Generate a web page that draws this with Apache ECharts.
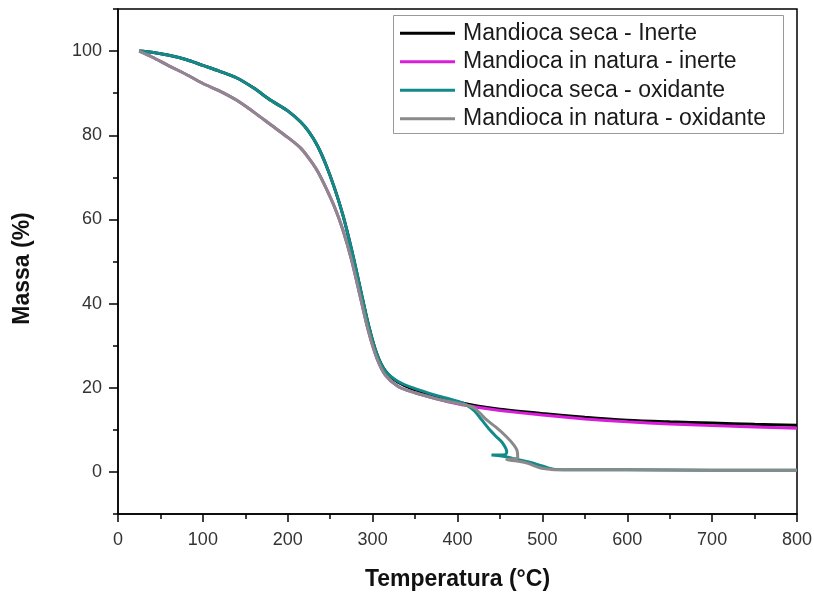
<!DOCTYPE html>
<html><head><meta charset="utf-8">
<script src="https://cdn.jsdelivr.net/npm/echarts@6/dist/echarts.min.js"></script>
<style>html,body{margin:0;padding:0;background:#fff}#c{width:814px;height:594px}</style>
</head><body><div id="c"></div>
<script>
// Temperature (°C) and mass (%)
const seriesNames = ['Mandioca seca - Inerte','Mandioca in natura - inerte','Mandioca seca - oxidante','Mandioca in natura - oxidante'];
const tSecaInerte = [25,40,60,80,100,120,140,160,180,200,215,225,235,245,255,265,275,285,295,305,315,330,350,375,400,425,450,500,550,600,650,700,750,800];
const mSecaInerte = [100,99.7,99,98,96.6,95.2,93.6,91.2,88.3,85.8,83.2,80.8,77.5,73,67.5,61,53,44,35,28,24,21.3,19.5,17.9,16.6,15.6,14.9,13.9,13.0,12.3,11.9,11.6,11.3,11.1];
const tNaturaInerte = [25,40,60,80,100,120,140,160,180,200,215,225,235,245,255,265,275,285,295,305,315,330,350,375,400,425,450,500,550,600,650,700,750,800];
const mNaturaInerte = [100,98.6,96.5,94.5,92.3,90.5,88.3,85.5,82.5,79.5,77,74.5,71.5,67.5,63,57.5,50.5,42,33.5,27,23,20.3,18.8,17.4,16.2,15.3,14.6,13.5,12.6,11.9,11.4,11.0,10.7,10.4];
const tSecaOxid = [25,40,60,80,100,120,140,160,180,200,215,225,235,245,255,265,275,285,295,305,315,330,350,375,400,410,420,428,438,446,453,458,456,448,440,452,465,485,500,515,600,700,800];
const mSecaOxid = [100,99.7,99,98,96.6,95.2,93.6,91.2,88.3,85.8,83.2,80.8,77.5,73,67.5,61,53,44,35,28,24,21.5,19.8,18.2,16.8,16.0,14.5,12.5,10,8.3,6.9,4.8,4.1,4.0,4.0,3.8,3.2,2.3,1.4,0.6,0.5,0.4,0.4];
const tNaturaOxid = [25,40,60,80,100,120,140,160,180,200,215,225,235,245,255,265,275,285,295,305,315,330,350,375,400,410,420,434,446,458,466,470,471,464,458,470,482,497,510,520,600,700,800];
const mNaturaOxid = [100,98.6,96.5,94.5,92.3,90.5,88.3,85.5,82.5,79.5,77,74.5,71.5,67.5,63,57.5,50.5,42,33.5,27,23,20.3,18.8,17.4,16.3,15.9,15.2,12.4,10.5,8.3,6.5,5.2,3.4,3.1,2.9,2.6,2.1,1.0,0.6,0.5,0.5,0.4,0.4];
const yTickLabels = [0,20,40,60,80,100];
const yMinorTicks = [-10,10,30,50,70,90,110];

const zip = (a,b) => a.map((v,i)=>[v,b[i]]);
const colors = ['#000000','#d81ed8','#138a8a','#8a8a8a'];
const datasets = [zip(tSecaInerte,mSecaInerte), zip(tNaturaInerte,mNaturaInerte), zip(tSecaOxid,mSecaOxid), zip(tNaturaOxid,mNaturaOxid)];
const font = 'Liberation Sans, Arial, sans-serif';

const chart = echarts.init(document.getElementById('c'));
chart.setOption({
  animation:false,
  grid:{left:118,right:17,top:9,bottom:80,show:true,borderColor:'#000',borderWidth:1.5,containLabel:false,outerBoundsMode:'none'},
  graphic:[{type:'rect',left:393,top:15,shape:{width:390,height:118},style:{fill:'#fff',stroke:'#999',lineWidth:1},z:-1,silent:true}],
  legend:{
    orient:'vertical',left:393,top:15,
    data:seriesNames,
    icon:'rect',itemWidth:55,itemHeight:3,itemGap:0,
    padding:[4,6,3,7],
    textStyle:{fontSize:23,fontFamily:font,color:'#1a1a1a',lineHeight:28.5,padding:[0,0,0,3]}
  },
  xAxis:{
    type:'value',min:0,max:800,interval:100,
    name:'Temperatura (°C)',nameLocation:'middle',nameGap:54,
    nameTextStyle:{fontSize:23,fontWeight:'bold',fontFamily:font,color:'#111'},
    axisLine:{show:true,onZero:false,lineStyle:{color:'#000',width:1.5}},
    axisTick:{show:true,inside:false,length:8,lineStyle:{color:'#000',width:1.5}},
    minorTick:{show:true,splitNumber:2,length:5,lineStyle:{color:'#000',width:1.5}},
    axisLabel:{fontSize:18,fontFamily:font,color:'#333',margin:17},
    splitLine:{show:false}
  },
  yAxis:[{
    type:'value',min:-10,max:110,
    name:'Massa (%)',nameLocation:'middle',nameGap:84,nameRotate:90,
    nameTextStyle:{fontSize:23,fontWeight:'bold',fontFamily:font,color:'#111',padding:[0,14,0,0]},
    axisLine:{show:true,onZero:false,lineStyle:{color:'#000',width:1.5}},
    axisTick:{show:true,length:9,customValues:yTickLabels,lineStyle:{color:'#000',width:1.5}},
    axisLabel:{fontSize:18,fontFamily:font,color:'#333',margin:16,customValues:yTickLabels},
    splitLine:{show:false}
  },{
    type:'value',min:-10,max:110,position:'left',
    axisLine:{show:false},
    axisTick:{show:true,length:5,customValues:yMinorTicks,lineStyle:{color:'#000',width:1.5}},
    axisLabel:{show:false},
    splitLine:{show:false}
  }],
  series: seriesNames.map((n,i)=>({
    name:n,type:'line',data:datasets[i],showSymbol:false,symbol:'none',
    smooth:0.3,yAxisIndex:0,
    lineStyle:{color:colors[i],width:3},itemStyle:{color:colors[i]}
  }))
});
</script></body></html>
